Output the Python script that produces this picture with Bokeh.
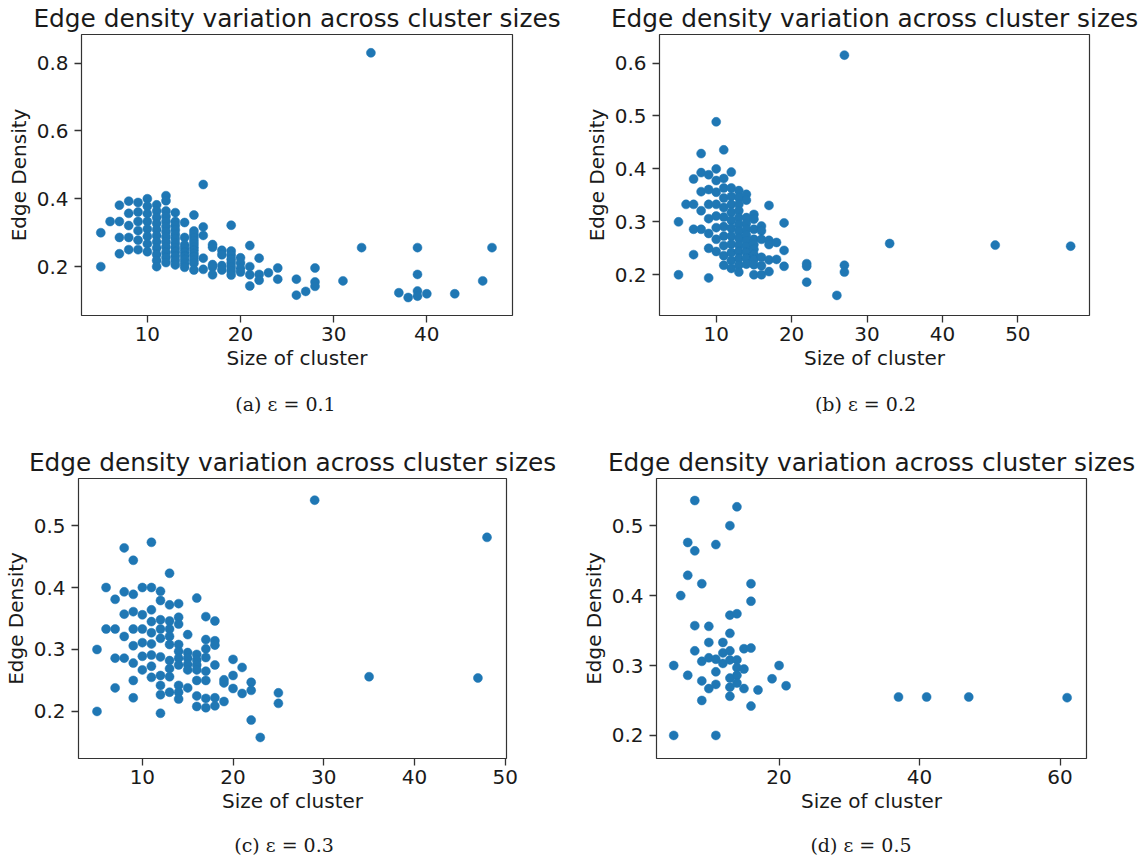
from bokeh.plotting import figure
from bokeh.models import Range1d, FixedTicker, Title
from bokeh.layouts import column, row
from bokeh.core.properties import value
from bokeh.embed import file_html
from bokeh.resources import INLINE

TITLE = "Edge density variation across cluster sizes"
X_LABEL = "Size of cluster"
Y_LABEL = "Edge Density"
CAPTIONS = ["(a) ε = 0.1", "(b) ε = 0.2", "(c) ε = 0.3", "(d) ε = 0.5"]

# ---- panel (a) eps = 0.1 : cluster size -> edge densities ----
a_groups = {
    5: [0.3, 0.2], 6: [0.333], 7: [0.381, 0.333, 0.286, 0.238],
    8: [0.393, 0.357, 0.321, 0.286, 0.25],
    9: [0.389, 0.361, 0.333, 0.306, 0.278, 0.25],
    10: [0.4, 0.378, 0.356, 0.333, 0.311, 0.289, 0.267, 0.244],
    11: [0.382, 0.364, 0.345, 0.327, 0.309, 0.291, 0.273, 0.255, 0.236, 0.218, 0.2],
    12: [0.409, 0.394, 0.364, 0.348, 0.333, 0.318, 0.303, 0.288, 0.273, 0.258, 0.242, 0.227, 0.212],
    13: [0.359, 0.333, 0.321, 0.308, 0.295, 0.282, 0.269, 0.256, 0.244, 0.231, 0.218, 0.205],
    14: [0.33, 0.286, 0.264, 0.253, 0.242, 0.231, 0.22, 0.209, 0.198],
    15: [0.352, 0.305, 0.295, 0.286, 0.276, 0.267, 0.257, 0.248, 0.238, 0.229, 0.219, 0.21, 0.19],
    16: [0.442, 0.317, 0.292, 0.225, 0.192],
    17: [0.265, 0.257, 0.206, 0.199, 0.176],
    18: [0.248, 0.235, 0.203, 0.19],
    19: [0.322, 0.246, 0.234, 0.222, 0.211, 0.199, 0.187, 0.175],
    20: [0.226, 0.211, 0.195, 0.184],
    21: [0.262, 0.2, 0.176, 0.143],
    22: [0.225, 0.177, 0.16], 23: [0.182], 24: [0.196, 0.163],
    26: [0.163, 0.116], 27: [0.127], 28: [0.196, 0.155, 0.142],
    31: [0.158], 33: [0.256], 34: [0.83], 37: [0.123], 38: [0.109],
    39: [0.256, 0.177, 0.128, 0.113], 40: [0.12], 43: [0.12],
    46: [0.158], 47: [0.256],
}

# ---- panel (b) eps = 0.2 ----
b_groups = {
    5: [0.3, 0.2], 6: [0.333], 7: [0.381, 0.333, 0.286, 0.238],
    8: [0.429, 0.393, 0.357, 0.321, 0.286],
    9: [0.389, 0.361, 0.333, 0.306, 0.278, 0.25, 0.194],
    10: [0.489, 0.4, 0.378, 0.356, 0.333, 0.311, 0.289, 0.267, 0.244],
    11: [0.436, 0.382, 0.364, 0.345, 0.327, 0.309, 0.291, 0.273, 0.255, 0.236, 0.218],
    12: [0.394, 0.364, 0.348, 0.333, 0.318, 0.303, 0.288, 0.273, 0.258, 0.242, 0.227, 0.212],
    13: [0.359, 0.346, 0.333, 0.321, 0.308, 0.295, 0.282, 0.269, 0.256, 0.244, 0.231, 0.218, 0.205],
    14: [0.352, 0.341, 0.308, 0.297, 0.286, 0.275, 0.264, 0.253, 0.242, 0.231, 0.22],
    15: [0.314, 0.305, 0.286, 0.267, 0.257, 0.248, 0.238, 0.229, 0.219, 0.2],
    16: [0.292, 0.283, 0.267, 0.233, 0.217, 0.2],
    17: [0.331, 0.265, 0.257, 0.228, 0.206],
    18: [0.261, 0.229], 19: [0.298, 0.246, 0.216],
    22: [0.221, 0.216, 0.186], 26: [0.161], 27: [0.615, 0.218, 0.205],
    33: [0.259], 47: [0.256], 57: [0.254],
}

# ---- panel (c) eps = 0.3 ----
c_groups = {
    5: [0.3, 0.2], 6: [0.4, 0.333], 7: [0.381, 0.333, 0.286, 0.238],
    8: [0.464, 0.393, 0.357, 0.321, 0.286],
    9: [0.444, 0.389, 0.361, 0.333, 0.306, 0.278, 0.25, 0.222],
    10: [0.4, 0.356, 0.333, 0.311, 0.289, 0.267],
    11: [0.473, 0.4, 0.364, 0.345, 0.327, 0.309, 0.291, 0.273, 0.255],
    12: [0.394, 0.379, 0.348, 0.333, 0.318, 0.288, 0.258, 0.242, 0.227, 0.197],
    13: [0.423, 0.372, 0.346, 0.333, 0.321, 0.308, 0.282, 0.269, 0.256, 0.231],
    14: [0.374, 0.352, 0.341, 0.308, 0.297, 0.286, 0.275, 0.242, 0.231, 0.22],
    15: [0.324, 0.295, 0.286, 0.276, 0.267, 0.238],
    16: [0.383, 0.292, 0.283, 0.275, 0.267, 0.25, 0.225, 0.208],
    17: [0.353, 0.316, 0.301, 0.287, 0.265, 0.25, 0.221, 0.206],
    18: [0.346, 0.314, 0.307, 0.275, 0.222, 0.209],
    19: [0.251, 0.246, 0.216], 20: [0.284, 0.258, 0.237], 21: [0.271, 0.229],
    22: [0.247, 0.234, 0.186], 23: [0.158], 25: [0.23, 0.213],
    29: [0.541], 35: [0.256], 47: [0.254], 48: [0.481],
}

# ---- panel (d) eps = 0.5 ----
d_groups = {
    5: [0.3, 0.2], 6: [0.4], 7: [0.476, 0.429, 0.286],
    8: [0.536, 0.464, 0.357, 0.321], 9: [0.417, 0.306, 0.278, 0.25],
    10: [0.356, 0.333, 0.311, 0.267], 11: [0.473, 0.309, 0.291, 0.273, 0.2],
    12: [0.333, 0.318, 0.303],
    13: [0.5, 0.372, 0.346, 0.321, 0.308, 0.282, 0.269, 0.256],
    14: [0.527, 0.374, 0.308, 0.297, 0.286, 0.275],
    15: [0.324, 0.295, 0.267], 16: [0.417, 0.392, 0.325, 0.242],
    17: [0.265], 19: [0.281], 20: [0.3], 21: [0.271],
    37: [0.255], 41: [0.255], 47: [0.255], 61: [0.254],
}

# axis extents and ticks
a_xrange, a_yrange = (2.93, 49.2), (0.056, 0.884)
b_xrange, b_yrange = (2.48, 59.5), (0.123, 0.654)
c_xrange, c_yrange = (2.96, 50.15), (0.124, 0.576)
d_xrange, d_yrange = (2.55, 63.76), (0.167, 0.5675)
a_xticks, a_yticks = [10, 20, 30, 40], [0.2, 0.4, 0.6, 0.8]
b_xticks, b_yticks = [10, 20, 30, 40, 50], [0.2, 0.3, 0.4, 0.5, 0.6]
c_xticks, c_yticks = [10, 20, 30, 40, 50], [0.2, 0.3, 0.4, 0.5]
d_xticks, d_yticks = [20, 40, 60], [0.2, 0.3, 0.4, 0.5]

INK = "#1a1a1a"


def flatten(groups):
    xs, ys = [], []
    for k, vals in groups.items():
        for v in vals:
            xs.append(k)
            ys.append(v)
    return xs, ys


def make_panel(groups, xr, yr, xt, yt, width, height, bl, br, bt, bb):
    p = figure(width=width, height=height, output_backend="svg", toolbar_location=None,
               x_range=Range1d(*xr), y_range=Range1d(*yr),
               min_border_left=bl, min_border_right=br, min_border_top=bt, min_border_bottom=bb,
               background_fill_color="white", border_fill_color="white")
    xs, ys = flatten(groups)
    p.scatter(xs, ys, size=9, fill_color="#1f77b4", line_color="#1f77b4", line_width=0.5)
    p.grid.visible = False
    p.outline_line_color = "#333333"
    p.outline_line_width = 1.2
    p.xaxis.ticker = FixedTicker(ticks=xt)
    p.yaxis.ticker = FixedTicker(ticks=yt)
    p.xaxis.axis_label = X_LABEL
    p.yaxis.axis_label = Y_LABEL
    for ax in (p.xaxis, p.yaxis):
        ax.axis_line_color = None
        ax.major_tick_in = 0
        ax.major_tick_out = 7
        ax.major_tick_line_color = "#333333"
        ax.major_tick_line_width = 1.3
        ax.minor_tick_line_color = None
        ax.major_label_text_font = "DejaVu Sans"
        ax.major_label_text_font_size = "20px"
        ax.major_label_text_color = INK
        ax.axis_label_text_font = "DejaVu Sans"
        ax.axis_label_text_font_size = "20px"
        ax.axis_label_text_font_style = "normal"
        ax.axis_label_text_color = INK
    p.xaxis.major_label_standoff = 4
    p.xaxis.axis_label_standoff = 2
    p.yaxis.major_label_standoff = 6
    p.yaxis.axis_label_standoff = 3
    p.title = Title(text=TITLE, align="center", text_font="DejaVu Sans", text_font_size="24.8px",
                    text_font_style="normal", text_color=INK, standoff=3)
    return p


def make_caption(text, width, height, bl, br, cx, cy_from_top):
    # the caption strip sits in a column with its panel, so Bokeh aligns its
    # frame with the panel frame; map the x range to figure pixels accordingly
    c = figure(width=width, height=height, output_backend="svg", toolbar_location=None,
               x_range=Range1d(bl, width - br), y_range=Range1d(0, height),
               x_axis_type=None, y_axis_type=None, min_border=0,
               background_fill_color="white", border_fill_color="white")
    c.grid.visible = False
    c.outline_line_color = None
    c.text(x=[cx], y=[height - cy_from_top], text=[text], text_align="center",
           text_baseline="middle",
           text_font=value("DejaVu Serif"), text_font_size="19px", text_color=INK)
    return c


pa = make_panel(a_groups, a_xrange, a_yrange, a_xticks, a_yticks, 567, 385, 81, 55, 34, 70)
pb = make_panel(b_groups, b_xrange, b_yrange, b_xticks, b_yticks, 575, 385, 92, 53, 34, 70)
pc = make_panel(c_groups, c_xrange, c_yrange, c_xticks, c_yticks, 567, 388, 77, 61, 38, 70)
pd = make_panel(d_groups, d_xrange, d_yrange, d_xticks, d_yticks, 575, 388, 89, 56, 38, 70)

ca = make_caption(CAPTIONS[0], 567, 55, 81, 55, 285, 18.9)
cb = make_caption(CAPTIONS[1], 575, 55, 92, 53, 298, 18.9)
cc = make_caption(CAPTIONS[2], 567, 32, 77, 61, 283, 16.7)
cd = make_caption(CAPTIONS[3], 575, 32, 89, 56, 293.5, 16.7)

layout = column(row(column(pa, ca), column(pb, cb)), row(column(pc, cc), column(pd, cd)))
open("out.html", "w").write(file_html(layout, INLINE))
